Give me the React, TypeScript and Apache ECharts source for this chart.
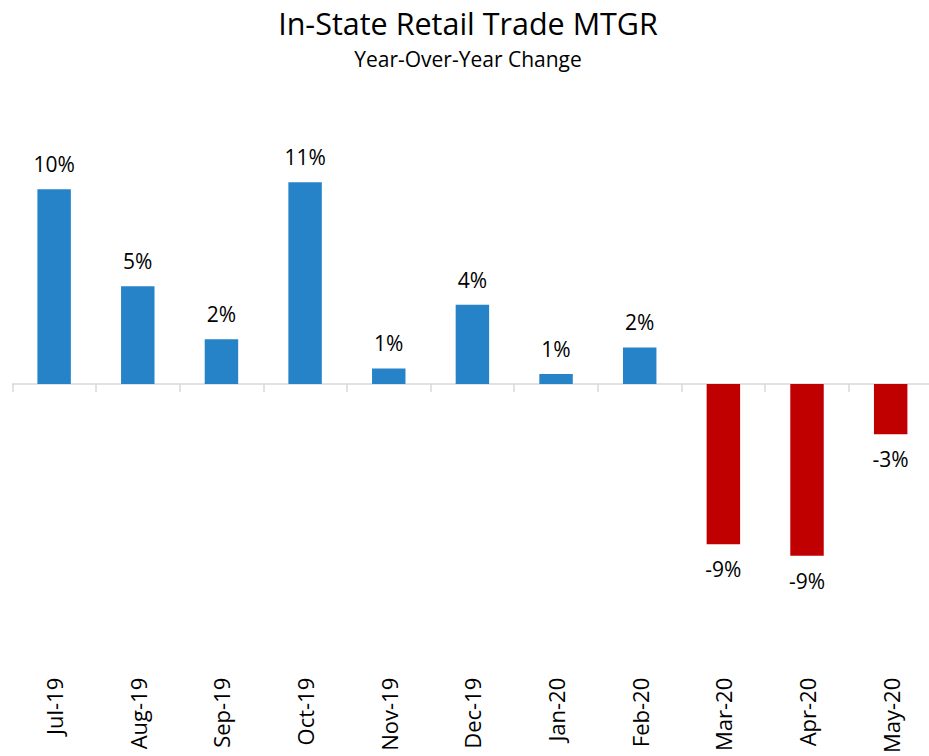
import React, { useEffect, useRef } from "react";
import * as echarts from "echarts";

const TITLE = "In-State Retail Trade MTGR";
const SUBTITLE = "Year-Over-Year Change";
const categories = ["Jul-19", "Aug-19", "Sep-19", "Oct-19", "Nov-19", "Dec-19", "Jan-20", "Feb-20", "Mar-20", "Apr-20", "May-20"];
const values = [10.41, 5.22, 2.39, 10.78, 0.83, 4.24, 0.54, 1.95, -8.56, -9.18, -2.69];
const POS_COLOR = "#2783C8";
const NEG_COLOR = "#C00000";
const FONT = "'Open Sans', 'Noto Sans', sans-serif";

export default function App() {
  const ref = useRef<HTMLDivElement>(null);
  useEffect(() => {
    if (!ref.current) return;
    const chart = echarts.init(ref.current, undefined, { renderer: "svg" });
    chart.setOption({
      animation: false,
      textStyle: { fontFamily: FONT },
      graphic: [
        {
          type: "text",
          x: 468,
          y: 23,
          style: { text: TITLE, fontSize: 30.5, fontFamily: FONT, fill: "#000", textAlign: "center", textVerticalAlign: "middle", align: "center", verticalAlign: "middle" },
        },
        {
          type: "text",
          x: 468,
          y: 59,
          style: { text: SUBTITLE, fontSize: 21, fontFamily: FONT, fill: "#000", textAlign: "center", textVerticalAlign: "middle", align: "center", verticalAlign: "middle" },
        },
      ],
      grid: { left: 12.3, right: 7.5, top: 103.25, bottom: 90.25, containLabel: false },
      xAxis: [
        {
          type: "category",
          data: categories,
          position: "bottom",
          axisLine: { show: false, onZero: false },
          axisTick: { show: false },
          axisLabel: { interval: 0, rotate: 90, margin: 13, fontSize: 22, color: "#000", fontFamily: FONT },
        },
        {
          type: "category",
          data: categories,
          position: "top",
          axisLine: { show: true, onZero: true, lineStyle: { color: "#D9D9D9", width: 1.5 } },
          axisTick: { show: true, inside: true, interval: 0, length: 8, lineStyle: { color: "#D9D9D9", width: 1.5 } },
          axisLabel: { show: false },
        },
      ],
      yAxis: { type: "value", min: -15, max: 15, show: false, splitLine: { show: false } },
      series: [
        {
          type: "bar",
          xAxisIndex: 0,
          barWidth: "40%",
          data: values.map((v) => ({
            value: v,
            itemStyle: { color: v < 0 ? NEG_COLOR : POS_COLOR },
            label: { position: v < 0 ? "bottom" : "top" },
          })),
          label: {
            show: true,
            distance: 14.5,
            fontSize: 21,
            lineHeight: 21,
            color: "#000",
            fontFamily: FONT,
            formatter: (p: any) => Math.round(p.value) + "%",
          },
        },
      ],
    });
    return () => chart.dispose();
  }, []);
  return (
    <div style={{ position: "fixed", left: 0, top: 0, width: 929, height: 756, overflow: "hidden", background: "#fff" }}>
      <div ref={ref} style={{ width: 940, height: 756 }} />
    </div>
  );
}
